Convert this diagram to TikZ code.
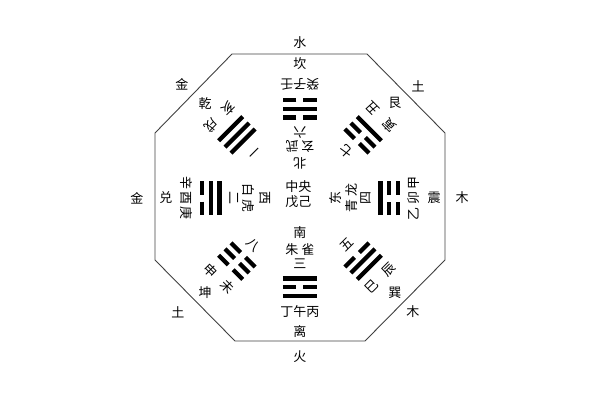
\documentclass[tikz,border=0pt]{standalone}
\usepackage{fontspec}
\newfontfamily\cjk{Noto Sans CJK SC}
\usetikzlibrary{positioning}

\begin{document}
\begin{tikzpicture}[x=1pt,y=1pt,
    every node/.style={font=\cjk\fontsize{13}{15}\selectfont,text=black,inner sep=0pt}]
  \tikzstyle{octa}=[draw=black!75,line width=0.9pt]
  \tikzstyle{yao}=[line width=4.2pt,black]

  \useasboundingbox (-300,-202) rectangle (300,198);
  \draw[octa] (-68,144) -- (67,144) -- (145,65) -- (145,-62) -- (65,-143)
    -- (-65,-143) -- (-145,-62) -- (-145,65) -- cycle;

  % wuxing outside
  \node (xing-n)  at (0,155)     {水};
  \node (xing-s)  at (0,-159)    {火};
  \node (xing-w)  at (-163,0)    {金};
  \node (xing-e)  at (162,0)     {木};
  \node (xing-nw) at (-118,114)  {金};
  \node (xing-ne) at (118,112)   {土};
  \node (xing-sw) at (-122,-114) {土};
  \node (xing-se) at (113,-114)  {木};

  % eight gua: angle / name / yao bottom..top / stems / number
  \foreach \a/\gua/\ya/\yb/\yc/\zhi/\num/\nm in {
      90/坎/0/1/0/{癸子壬}/六/n,
      45/艮/0/0/1/{寅\hspace{11pt}丑}/七/ne,
      0/震/1/0/0/{乙\hspace{2.5pt}卯\hspace{2.5pt}甲}/四/e,
      -45/巽/0/1/1/{巳\hspace{11pt}辰}/五/se,
      -90/离/1/0/1/{丁午丙}/三/s,
      -135/坤/0/0/0/{申\hspace{11pt}未}/八/sw,
      180/兑/1/1/0/{辛\hspace{2.5pt}酉\hspace{2.5pt}庚}/二/w,
      135/乾/1/1/1/{亥\hspace{11pt}戌}/一/nw} {
    \node (gua-\nm) at (\a:134) {\gua};
    \begin{scope}[rotate=\a+90, transform shape]
      \node (zhi-\nm) at (0,-114) {\zhi};
      \node (num-\nm) at (0,-66) {\num};
      \foreach \y/\r in {\ya/80.5,\yb/89,\yc/98} {
        \ifnum\y=1
          \draw[yao] (-17,-\r) -- (17,-\r);
        \else
          \draw[yao] (-17,-\r) -- (-3.5,-\r);
          \draw[yao] (3.5,-\r) -- (17,-\r);
        \fi
      }
    \end{scope}
  }

  % four animals and directions
  \foreach \a/\shou/\fang/\nm in {90/{玄\hspace{3pt}武}/北/n, 0/{青\hspace{3pt}龙}/东/e,
      -90/{朱\hspace{3pt}雀}/南/s, 180/{白\hspace{3pt}虎}/西/w} {
    \begin{scope}[rotate=\a+90, transform shape]
      \node (shou-\nm) at (0,-52) {\shou};
      \node (fang-\nm) at (0,-35) {\fang};
    \end{scope}
  }

  \node[align=center] (zhong) at (-1.5,3.5) {中央\\戊己};
\end{tikzpicture}
\end{document}
